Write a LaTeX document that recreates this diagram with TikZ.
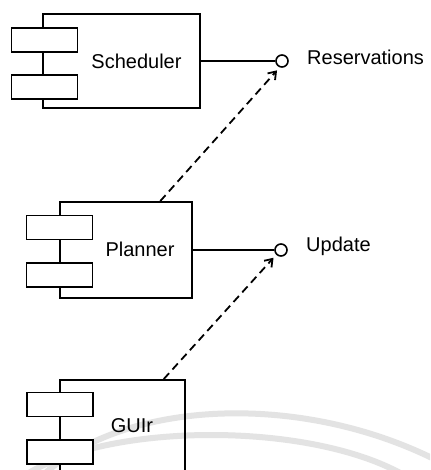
\documentclass[tikz,border=0pt]{standalone}
\usepackage{fontspec}
\setmainfont{Liberation Sans}
\usetikzlibrary{arrows.meta, positioning}
\tikzset{
  compbox/.style={draw, line width=1.8pt, inner sep=0pt},
  portbox/.style={draw, fill=white, line width=1.8pt, inner sep=0pt, minimum width=66pt, minimum height=24pt},
  iface/.style={draw, fill=white, circle, line width=1.6pt, inner sep=0pt, minimum size=12pt},
  lbl/.style={inner sep=0pt, font=\fontsize{20}{23}\selectfont},
  dep/.style={line width=1.8pt, dash pattern=on 8pt off 5pt, -{Straight Barb[length=7pt,width=10pt]}, shorten >=4pt},
}
\begin{document}
\begin{tikzpicture}[x=1pt, y=-1pt]
  \path[use as bounding box, clip] (0,0) rectangle (430,470);
  \fill[white] (0,0) rectangle (430,470);
  \draw[gray!22, line width=6pt] (40,478) .. controls (120,400) and (300,390) .. (440,462);
  \draw[gray!22, line width=6pt] (18,480) .. controls (100,420) and (320,420) .. (412,480);
  \node[compbox, minimum width=157pt, minimum height=94pt] (sched) at (121.5,61) {};
  \node[portbox] (schedp1) at (44.5,40) {};
  \node[portbox] (schedp2) at (44.5,87) {};
  \node[lbl] (schedtxt) at (136.5,61) {Scheduler};
  \node[compbox, minimum width=132pt, minimum height=96pt] (plan) at (126,250) {};
  \node[portbox] (planp1) at (59.5,227.5) {};
  \node[portbox] (planp2) at (59.5,275) {};
  \node[lbl] (plantxt) at (140,249) {Planner};
  \node[compbox, minimum width=125pt, minimum height=160pt] (gui) at (122.5,460) {};
  \node[portbox] (guip1) at (60,404.5) {};
  \node[portbox] (guip2) at (60,452) {};
  \node[lbl] (guitxt) at (132,426) {GUIr};
  \node[iface] (resv) at (282,61) {};
  \node[iface] (upd) at (281,250) {};
  \node[lbl, anchor=base west] (resvtxt) at (307,65) {Reservations};
  \node[lbl, anchor=base west] (updtxt) at (306,251) {Update};
  \draw[line width=1.6pt] (sched.east) -- (resv.west);
  \draw[line width=1.6pt] (plan.east) -- (upd.west);
  \draw[dep] (plan.55) -- (resv.250);
  \draw[dep] (gui.63) -- (upd.225);
\end{tikzpicture}
\end{document}
